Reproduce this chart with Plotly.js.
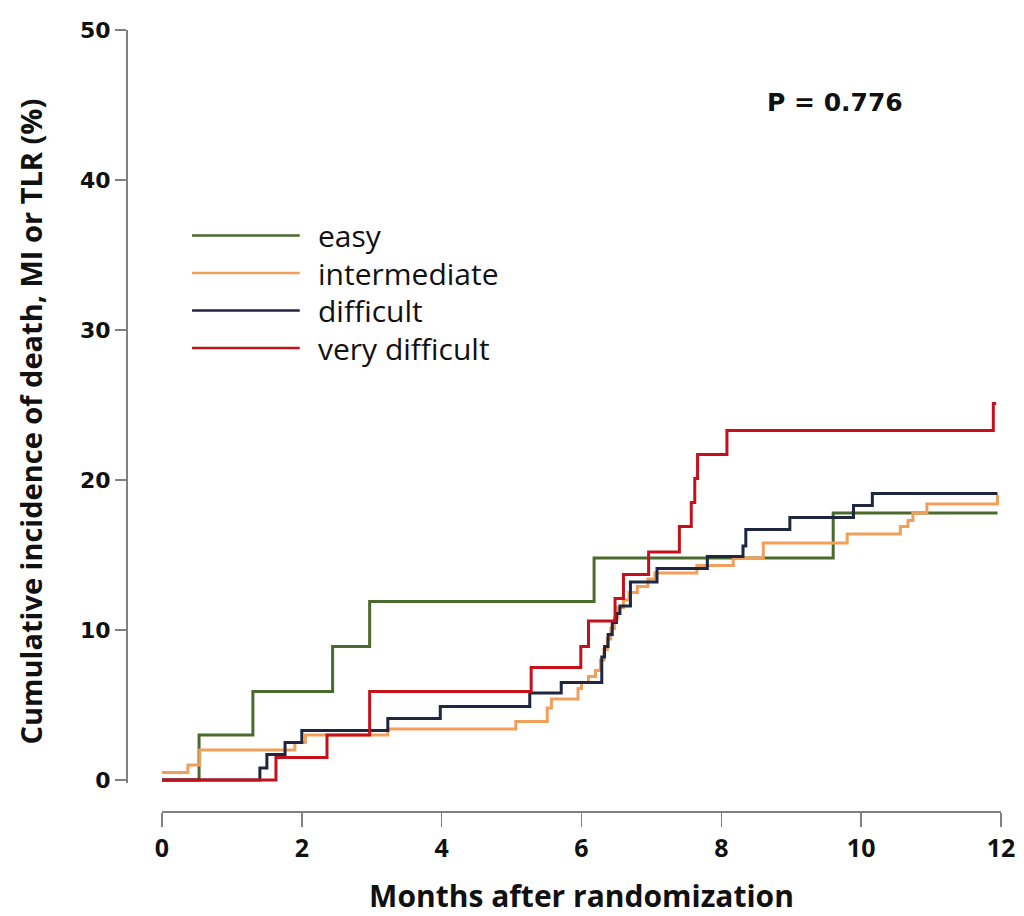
<!DOCTYPE html>
<html>
<head>
<meta charset="utf-8">
<script src="https://cdn.plot.ly/plotly-3.0.1.min.js"></script>
<style>html,body{margin:0;padding:0;background:#fff;}#chart{width:1024px;height:916px;}</style>
</head>
<body>
<div id="chart"></div>
<script>
// Months after randomization / cumulative incidence (%) — step points
var easyX = [0, 0.53, 1.30, 2.44, 2.97, 6.18, 9.60, 11.95];
var easyY = [0, 3.0, 5.9, 8.9, 11.9, 14.8, 17.8, 17.8];

var interX = [0, 0.37, 0.54, 1.90, 2.05, 3.23, 5.06, 5.51, 5.57, 5.95, 6.00, 6.10, 6.20, 6.27, 6.32, 6.37, 6.42, 6.47, 6.52, 6.60, 6.68, 6.80, 6.95, 7.05, 7.65, 8.17, 8.60, 9.80, 10.56, 10.67, 10.74, 10.94, 11.95, 11.97];
var interY = [0.5, 1.0, 2.0, 2.5, 3.0, 3.4, 3.9, 4.8, 5.4, 6.1, 6.5, 6.9, 7.3, 8.0, 8.7, 9.4, 10.1, 10.8, 11.5, 12.0, 12.5, 12.9, 13.4, 13.8, 14.3, 14.8, 15.8, 16.4, 16.9, 17.3, 17.8, 18.4, 18.9, 18.9];

var diffX = [0, 1.40, 1.50, 1.76, 2.00, 3.23, 3.98, 5.26, 5.71, 6.29, 6.33, 6.38, 6.44, 6.50, 6.55, 6.70, 7.08, 7.80, 8.31, 8.35, 8.98, 9.89, 10.16, 11.95];
var diffY = [0, 0.8, 1.7, 2.5, 3.3, 4.1, 4.9, 5.8, 6.5, 8.2, 8.9, 9.7, 10.5, 11.1, 11.6, 13.2, 14.1, 14.9, 15.6, 16.7, 17.5, 18.3, 19.1, 19.1];

var vdiffX = [0, 1.63, 2.36, 2.97, 5.28, 5.99, 6.10, 6.48, 6.60, 6.96, 7.40, 7.57, 7.62, 7.66, 8.08, 11.89, 11.93];
var vdiffY = [0, 1.5, 3.0, 5.9, 7.5, 8.9, 10.6, 12.1, 13.7, 15.2, 16.9, 18.5, 20.1, 21.7, 23.3, 25.1, 25.1];

var seriesNames = ['easy', 'intermediate', 'difficult', 'very difficult'];
var seriesColors = ['#4b6a2d', '#f0a05a', '#1e2640', '#c4111b'];
var xTicks = [0, 2, 4, 6, 8, 10, 12];
var yTicks = [0, 10, 20, 30, 40, 50];
var pText = 'P = 0.776';
var xTitle = 'Months after randomization';
var yTitle = 'Cumulative incidence of death, MI or TLR (%)';

var xs = [easyX, interX, diffX, vdiffX];
var ys = [easyY, interY, diffY, vdiffY];

var traces = [];
for (var i = 0; i < 4; i++) {
  traces.push({
    x: xs[i], y: ys[i], name: seriesNames[i], type: 'scatter', mode: 'lines',
    line: {shape: 'hv', color: seriesColors[i], width: 3},
    showlegend: false, hoverinfo: 'skip'
  });
}

var W = 1024, H = 916;
var mL = 126, mR = 23, mT = 30, mB = 105;
var pw = W - mL - mR, ph = H - mT - mB;

// custom legend (long line samples), placed in data coordinates
var legY = [36.3, 33.8, 31.3, 28.8];
var shapes = [], annotations = [];
for (var j = 0; j < 4; j++) {
  shapes.push({type: 'line', xref: 'x', yref: 'y', x0: 0.43, x1: 1.97, y0: legY[j], y1: legY[j],
    line: {color: seriesColors[j], width: 2.5}});
  annotations.push({xref: 'x', yref: 'y', x: 2.2, y: legY[j], text: seriesNames[j], showarrow: false,
    xanchor: 'left', yanchor: 'middle', font: {family: 'Open Sans', size: 30, color: '#111'}});
}
annotations.push({xref: 'x', yref: 'y', x: 9.63, y: 45.2, text: '<b>' + pText + '</b>', showarrow: false,
  xanchor: 'center', yanchor: 'middle', font: {family: 'DejaVu Sans', size: 25, color: '#111'}});
// y-axis title as rotated annotation for exact placement
annotations.push({xref: 'paper', yref: 'y', x: (30 - mL) / pw, y: 23.9, text: '<b>' + yTitle + '</b>',
  textangle: -90, showarrow: false, xanchor: 'center', yanchor: 'middle',
  font: {family: 'Open Sans', size: 29, color: '#111'}});

var layout = {
  width: W, height: H,
  margin: {l: mL, r: mR, t: mT, b: mB, pad: 0},
  paper_bgcolor: '#fff', plot_bgcolor: '#fff',
  showlegend: false,
  xaxis: {
    domain: [(162 - mL) / pw, 1], range: [0, 12], anchor: 'free', position: 0,
    tickvals: xTicks, ticktext: xTicks.map(String),
    showgrid: false, zeroline: false, showline: true, linecolor: '#808080', linewidth: 1.5,
    ticks: 'outside', ticklen: 14, tickwidth: 1.5, tickcolor: '#808080',
    tickfont: {family: 'Open Sans', size: 25, color: '#111', weight: 'bold'},
    title: {text: '<b>' + xTitle + '</b>', font: {family: 'Open Sans', size: 30, color: '#111'}, standoff: 24}
  },
  yaxis: {
    domain: [(H - mB - 783) / ph, 1], range: [-0.2, 50], anchor: 'free', position: 0,
    tickvals: yTicks, ticktext: yTicks.map(String),
    showgrid: false, zeroline: false, showline: true, linecolor: '#808080', linewidth: 1.5,
    ticks: 'outside', ticklen: 11, tickwidth: 1.5, tickcolor: '#808080',
    tickfont: {family: 'DejaVu Sans', size: 22, color: '#111', weight: 'bold'}
  },
  shapes: shapes,
  annotations: annotations
};

Plotly.newPlot('chart', traces, layout, {displayModeBar: false, staticPlot: true});
</script>
</body>
</html>
